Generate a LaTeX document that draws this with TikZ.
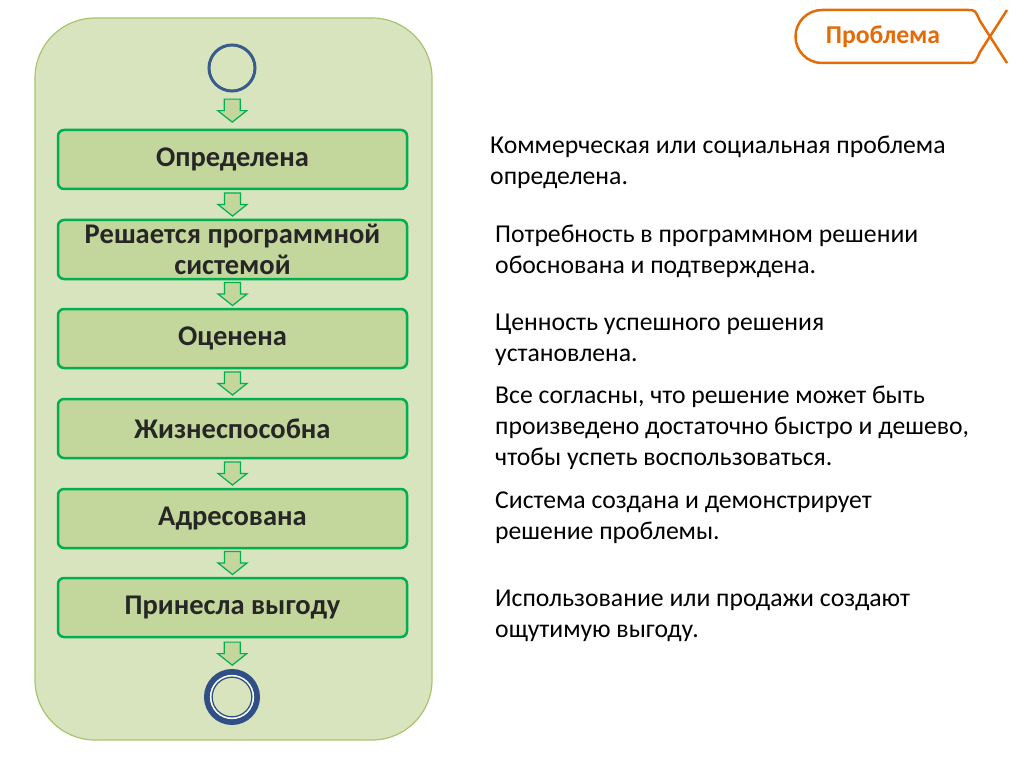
\documentclass[tikz,border=0pt]{standalone}
\usepackage{fontspec}
\setmainfont{Carlito}
\usetikzlibrary{calc}

\definecolor{lanefill}{HTML}{D7E4BD}
\definecolor{laneline}{HTML}{A9C46F}
\definecolor{stagefill}{HTML}{C3D69B}
\definecolor{stageline}{HTML}{00B050}
\definecolor{stagetext}{HTML}{262626}
\definecolor{startblue}{HTML}{385D8A}
\definecolor{finishblue}{HTML}{2F4F86}
\definecolor{badgeorange}{HTML}{E36C09}

\begin{document}
\begin{tikzpicture}[x=1pt,y=-1pt,
    lane/.style={draw=laneline, line width=1.2pt, fill=lanefill, rounded corners=60pt,
      minimum width=397pt, minimum height=722pt, inner sep=0pt},
    stage/.style={draw=stageline, line width=2.5pt, fill=stagefill, rounded corners=6pt,
      minimum width=349pt, minimum height=59pt, inner sep=0pt, align=center,
      text=stagetext, font=\fontsize{28.5}{31}\selectfont\bfseries},
    note/.style={anchor=west, align=left, inner sep=0pt, text=black,
      font=\fontsize{25.7}{31}\selectfont},
    badge/.style={draw=badgeorange, line width=2.5pt},
    flowarrow/.pic={
      \filldraw[draw=stageline, fill=stagefill, line width=1.2pt]
        (-8,-11.5) -- (8,-11.5) -- (8,0) -- (14.5,0) -- (0,11.5) -- (-14.5,0) -- (-8,0) -- cycle;
    }]
  \useasboundingbox (0,0) rectangle (1024,767);

  % Swimlane
  \node[lane] (lane) at (233.5,379) {};

  % Start and finish
  \node[circle, draw=startblue, line width=3pt, minimum size=46pt, inner sep=0pt] (start) at (232,68) {};
  \node[circle, draw=finishblue, line width=6pt, minimum size=50pt, inner sep=0pt] (finish) at (232,697) {};
  \draw[white, line width=1.2pt] (finish.center) circle (21.5);
  \draw[finishblue, line width=1.2pt] (finish.center) circle (19.8);

  % States
  \node[stage] (s1) at (232.5,159.5) {Определена};
  \node[stage] (s2) at (232.5,249.5) {Решается программной\\системой};
  \node[stage] (s3) at (232.5,338.5) {Оценена};
  \node[stage] (s4) at (232.5,428.5) {Жизнеспособна};
  \node[stage] (s5) at (232.5,518.5) {Адресована};
  \node[stage] (s6) at (232.5,607.5) {Принесла выгоду};

  \foreach \a/\b in {start/s1,s1/s2,s2/s3,s3/s4,s4/s5,s5/s6,s6/finish}
    \path ($(\a.south)!0.5!(\b.north)$) pic {flowarrow};

  % Descriptions
  \node[note] (t1) at (490,162) {Коммерческая или социальная проблема\\определена.};
  \node[note] (t2) at (495,251) {Потребность в программном решении\\обоснована и подтверждена.};
  \node[note] (t3) at (495,340) {Ценность успешного решения\\установлена.};
  \node[note] (t4) at (495,428) {Все согласны, что решение может быть\\произведено достаточно быстро и дешево,\\чтобы успеть воспользоваться.};
  \node[note] (t5) at (495,518) {Система создана и демонстрирует\\решение проблемы.};
  \node[note] (t6) at (495,616) {Использование или продажи создают\\ощутимую выгоду.};

  % Badge
  \node[text=badgeorange, font=\fontsize{25.7}{26}\selectfont\bfseries] (probl) at (883,37) {Проблема};
  \draw[badge] (968,10) -- (822,10) arc[start angle=270, end angle=90, radius=26.5] -- (968,63);
  \draw[badge] (968,10) .. controls (975,10) .. (980,21) -- (1007,63);
  \draw[badge] (968,63) .. controls (975,63) .. (980,52) -- (1007,10);
\end{tikzpicture}
\end{document}
